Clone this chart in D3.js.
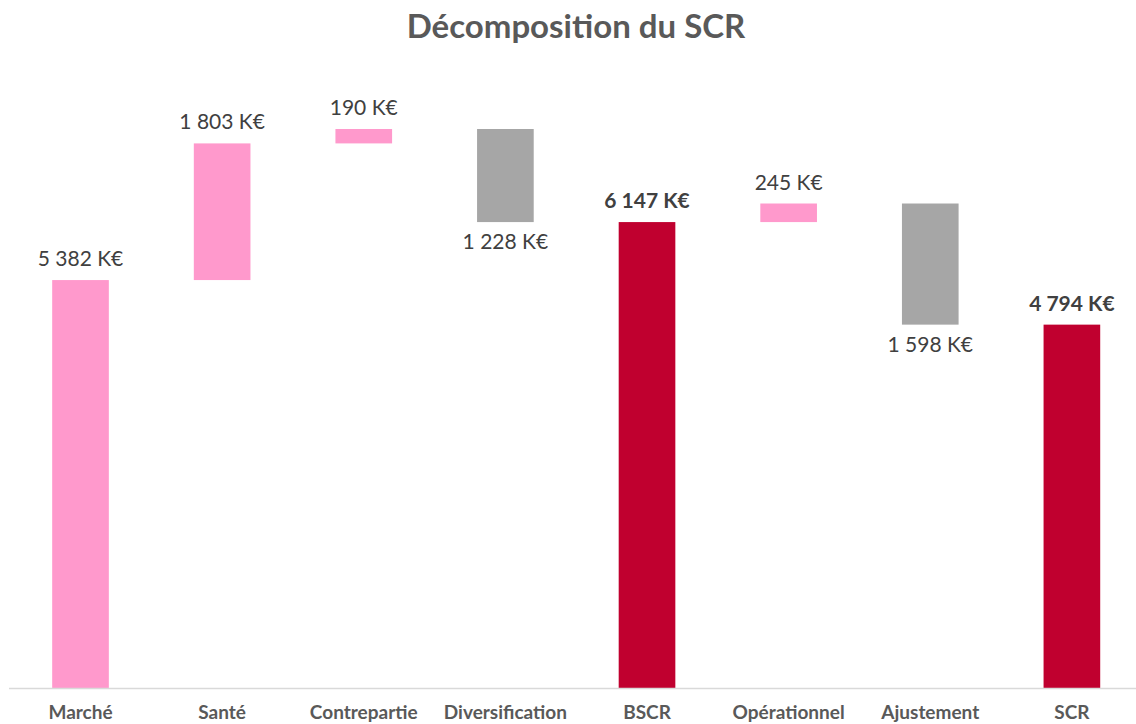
<!DOCTYPE html>
<html><head><meta charset="utf-8">
<script src="https://cdn.jsdelivr.net/npm/d3@7"></script>
<style>body{margin:0;background:#fff}svg{display:block}</style>
</head><body>
<svg id="c" width="1136" height="724"></svg>
<script>
const categories = ["Marché","Santé","Contrepartie","Diversification","BSCR","Opérationnel","Ajustement","SCR"];
const values = [5382, 1803, 190, -1228, 6147, 245, -1598, 4794];
const kinds = ["up","up","up","down","total","up","down","total"];
const labels = ["5 382 K€","1 803 K€","190 K€","1 228 K€","6 147 K€","245 K€","1 598 K€","4 794 K€"];

const colors = {up:"#FF99CC", down:"#A6A6A6", total:"#C0002F"};
const font = "Lato, 'Open Sans', sans-serif";
const svg = d3.select("#c");
const W = 1136, H = 724;
const baseY = 688;

let run = 0;
const bars = categories.map((c,i)=>{
  let y0, y1;
  if (kinds[i]==="total"){ y0=0; y1=values[i]; run=values[i]; }
  else { y0=run; y1=run+values[i]; run=y1; }
  return {cat:c, y0, y1, kind:kinds[i], label:labels[i]};
});

const x = d3.scaleBand().domain(categories).range([9.7, 1142.7]).paddingInner(0.6).paddingOuter(0.3);
const y = d3.scaleLinear().domain([0, 7375]).range([baseY, 129]);

svg.append("text").attr("x", 576).attr("y", 38).attr("text-anchor","middle")
  .attr("font-family", font).attr("font-weight","bold").attr("font-size", 33)
  .attr("fill","#595959").text("Décomposition du SCR");

svg.selectAll("rect.bar").data(bars).enter().append("rect")
  .attr("x", d=>x(d.cat)).attr("width", x.bandwidth())
  .attr("y", d=>y(Math.max(d.y0,d.y1)))
  .attr("height", d=>Math.abs(y(d.y0)-y(d.y1)))
  .attr("fill", d=>colors[d.kind]);

svg.append("line").attr("x1", 9).attr("x2", W).attr("y1", baseY+0.5).attr("y2", baseY+0.5)
  .attr("stroke","#D9D9D9").attr("stroke-width",1.3);

svg.selectAll("text.val").data(bars).enter().append("text")
  .attr("x", d=>x(d.cat)+x.bandwidth()/2)
  .attr("y", d=> d.kind==="down" ? y(Math.min(d.y0,d.y1))+27 : y(Math.max(d.y0,d.y1))-14)
  .attr("text-anchor","middle").attr("font-family", font)
  .attr("font-size", 21).attr("font-weight", d=>d.kind==="total"?"bold":"normal")
  .attr("fill","#404040").text(d=>d.label);

const axis = d3.axisBottom(x).tickSize(0).tickPadding(0);
const g = svg.append("g").attr("transform", `translate(0,${baseY})`).call(axis);
g.select(".domain").remove();
g.selectAll("text").attr("y", 31).attr("dy", 0).attr("font-family", font)
  .attr("font-size", 19).attr("font-weight","bold").attr("fill","#595959");
</script>
</body></html>
